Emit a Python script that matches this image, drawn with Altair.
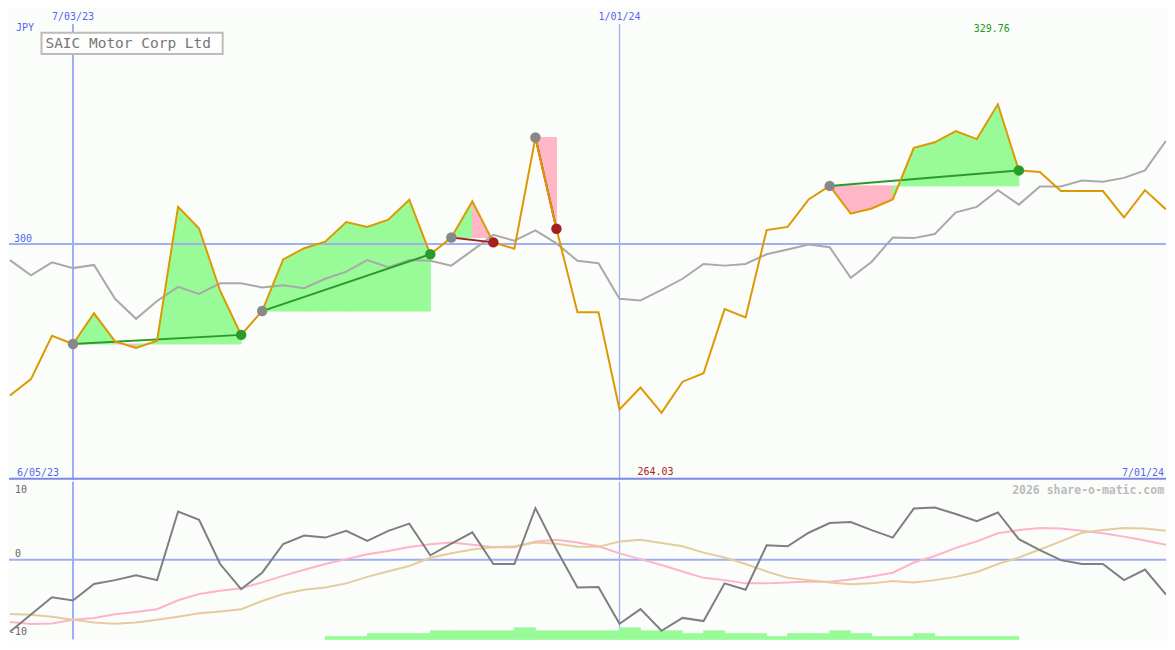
import altair as alt
import pandas as pd

# ---------------- data (weekly closes, JPY) ----------------
week_dates = pd.date_range("2023-06-12", "2024-07-01", freq="7D")  # 56 weeks

price = [267.73, 271.23, 280.44, 278.71, 285.25, 279.27, 277.89, 279.41, 307.91, 303.32,
         290.05, 280.65, 285.72, 296.72, 299.11, 300.49, 304.68, 303.65, 305.17, 309.42,
         297.82, 301.38, 309.09, 300.35, 298.99, 322.69, 303.24, 285.45, 285.45, 264.78,
         269.44, 264.03, 270.68, 272.47, 286.13, 284.36, 302.97, 303.65, 309.50, 312.38,
         306.47, 307.56, 309.50, 320.48, 321.66, 324.05, 322.34, 329.76, 315.68, 315.33,
         311.27, 311.27, 311.27, 305.65, 311.48, 307.36]

moving_avg = [296.58, 293.34, 296.11, 294.87, 295.55, 288.34, 284.07, 287.86, 290.87, 289.37,
              291.63, 291.63, 290.75, 291.22, 290.60, 292.60, 294.11, 296.58, 295.08, 296.58,
              296.44, 295.40, 298.64, 301.94, 300.70, 302.91, 300.14, 296.44, 295.90, 288.34,
              287.99, 290.25, 292.60, 295.76, 295.40, 295.76, 297.82, 298.85, 299.88, 299.32,
              292.81, 296.23, 301.38, 301.26, 302.14, 306.74, 307.91, 311.48, 308.39, 312.24,
              312.24, 313.54, 313.27, 314.09, 315.68, 321.99]

momentum = [-10.21, -7.78, -5.32, -5.78, -3.45, -2.90, -2.22, -2.90, 6.82, 5.64,
            -0.62, -4.18, -1.85, 2.22, 3.40, 3.12, 4.08, 2.67, 4.08, 5.10,
            0.62, 2.26, 3.86, -0.62, -0.62, 7.29, 1.44, -3.95, -3.86, -9.07,
            -7.01, -10.07, -8.25, -8.70, -3.36, -4.27, 2.03, 1.89, 3.81, 5.18,
            5.32, 4.18, 3.12, 7.23, 7.37, 6.47, 5.45, 6.68, 2.90, 1.34,
            -0.07, -0.62, -0.62, -2.90, -1.40, -4.96]

osc_fast = [-8.84, -9.11, -9.04, -8.52, -8.25, -7.74, -7.40, -7.01, -5.75, -4.86,
            -4.41, -4.04, -3.22, -2.30, -1.44, -0.62, 0.07, 0.75, 1.23, 1.78,
            2.19, 2.44, 2.12, 1.75, 1.75, 2.58, 2.81, 2.44, 1.89, 0.89,
            0.07, -0.75, -1.67, -2.58, -2.90, -3.36, -3.36, -3.22, -3.08, -3.12,
            -2.81, -2.40, -1.85, -0.41, 0.52, 1.67, 2.58, 3.73, 4.18, 4.49,
            4.41, 4.08, 3.73, 3.26, 2.71, 2.12]

osc_slow = [-7.70, -7.81, -8.08, -8.52, -8.90, -9.07, -8.90, -8.52, -8.08, -7.60,
            -7.33, -7.01, -5.86, -4.86, -4.27, -3.95, -3.36, -2.44, -1.64, -0.89,
            0.27, 0.89, 1.44, 1.75, 1.89, 2.44, 2.26, 1.81, 1.81, 2.58,
            2.81, 2.36, 1.89, 0.99, 0.30, -0.62, -1.67, -2.58, -2.90, -3.22,
            -3.49, -3.36, -3.04, -3.22, -2.90, -2.44, -1.75, -0.62, 0.30, 1.44,
            2.58, 3.81, 4.18, 4.49, 4.41, 4.08]

volume_dates = pd.date_range("2023-09-25", "2024-05-06", freq="7D")  # 33 weeks
volume = [1, 1, 2, 2, 2, 3, 3, 3, 3, 4, 3, 3, 3, 3, 4, 3, 3, 2, 3, 2, 2, 1, 2, 2, 3, 2,
          1, 1, 2, 1, 1, 1, 1]

entry_dates = ["2023-07-03", "2023-09-04", "2023-11-06", "2023-12-04", "2024-03-11"]
exit_dates = ["2023-08-28", "2023-10-30", "2023-11-20", "2023-12-11", "2024-05-13"]

grid_dates = ["2023-07-03", "2024-01-01"]
grid_widths = [2, 1.3]
range_start = "2023-06-05"
range_end = "2024-07-01"
title = "SAIC Motor Corp Ltd"
currency = "JPY"
price_level = 300
osc_ticks = [10, 0, -10]
watermark = "2026 share-o-matic.com"

# ---------------- helpers ----------------
origin = pd.Timestamp("2023-07-03")


def wk(d):
    return (pd.Timestamp(d) - origin).days / 7.0


def dlabel(d):
    d = pd.Timestamp(d)
    return f"{d.month}/{d.day:02d}/{d.year % 100:02d}"


SX = 1159 / 1175
SY = 630 / 650
W = 1159
H1 = 472
H2 = 158


def px(v):
    return v * SX


def py(v):
    return v * SY


def pyb(v):
    return (v - 487) * SY


FONT = "DejaVu Sans Mono"
BLUE_TXT = "#5566ee"
GRID = "#a0aef4"
BG = "#fbfdfb"

xs = alt.Scale(domain=[-3.0445, 52.0], nice=False, zero=False)
ys_top = alt.Scale(domain=[249.8, 350.15], nice=False, zero=False)
ys_bot = alt.Scale(domain=[-11.30, 11.03], nice=False, zero=False)
ys_vol = alt.Scale(domain=[0, 54.33], nice=False, zero=False)


def X(f="wk"):
    return alt.X(f"{f}:Q", scale=xs, axis=None)


def YT(f):
    return alt.Y(f"{f}:Q", scale=ys_top, axis=None)


def YB(f):
    return alt.Y(f"{f}:Q", scale=ys_bot, axis=None)


weeks = [wk(d) for d in week_dates]
main = pd.DataFrame({"wk": weeks, "price": price, "ma": moving_avg,
                     "mom": momentum, "fast": osc_fast, "slow": osc_slow})
pidx = {round(w): i for i, w in enumerate(weeks)}

# trade fills (per weekly segment between entry and exit)
fill_rows, line_rows, entry_rows, exit_rows = [], [], [], []
for t, (ed, xd) in enumerate(zip(entry_dates, exit_dates)):
    e, x = round(wk(ed)), round(wk(xd))
    base = price[pidx[e]]
    result = "win" if price[pidx[x]] >= base else "loss"
    for k in range(e, x):
        kind = "up" if price[pidx[k + 1]] >= base else "down"
        seg = f"{t}-{k}"
        fill_rows.append({"seg": seg, "wk": k, "p": price[pidx[k]], "base": base, "kind": kind})
        fill_rows.append({"seg": seg, "wk": k + 1, "p": price[pidx[k + 1]], "base": base, "kind": kind})
    line_rows.append({"trade": t, "wk": e, "price": base, "result": result})
    line_rows.append({"trade": t, "wk": x, "price": price[pidx[x]], "result": result})
    entry_rows.append({"wk": e, "price": base})
    exit_rows.append({"wk": x, "price": price[pidx[x]], "result": result})

fill_df = pd.DataFrame(fill_rows)
line_df = pd.DataFrame(line_rows)
entry_df = pd.DataFrame(entry_rows)
exit_df = pd.DataFrame(exit_rows)

grid_df = pd.DataFrame({"wk": [wk(d) for d in grid_dates], "w": grid_widths,
                        "label": [dlabel(d) for d in grid_dates]})
vol_df = pd.DataFrame({"wk": [wk(d) for d in volume_dates], "vol": volume})
vol_df["wk_end"] = vol_df["wk"] + 1

imax = max(range(len(price)), key=lambda i: price[i])
imin = min(range(len(price)), key=lambda i: price[i])
hi_df = pd.DataFrame({"wk": [weeks[imax]], "label": [f"{price[imax]:.2f}"]})
lo_df = pd.DataFrame({"wk": [weeks[imin]], "label": [f"{price[imin]:.2f}"]})
one = pd.DataFrame({"label": [title]})

result_color = alt.Color("result:N", scale=alt.Scale(domain=["win", "loss"],
                                                     range=["#2a9a2a", "#a52020"]), legend=None)
fill_scale = alt.Scale(domain=["up", "down"], range=["#98fb98", "#ffb6c6"])

# ---------------- top panel ----------------
vgrid_top = alt.Chart(grid_df).mark_rule(color=GRID).encode(
    x=X(), y=alt.value(py(16)), y2=alt.value(H1),
    strokeWidth=alt.StrokeWidth("w:Q", scale=None))

fills = alt.Chart(fill_df).mark_area(opacity=1, clip=True, strokeWidth=1).encode(
    x=X(), y=YT("p"), y2="base:Q",
    color=alt.Color("kind:N", scale=fill_scale, legend=None),
    stroke=alt.Stroke("kind:N", scale=fill_scale, legend=None),
    detail="seg:N")

hline = alt.Chart(pd.DataFrame({"level": [price_level]})).mark_rule(
    color=GRID, strokeWidth=2).encode(y=YT("level"))

ma_line = alt.Chart(main).mark_line(color="#a9a9a9", strokeWidth=2, clip=True).encode(
    x=X(), y=YT("ma"))
price_line = alt.Chart(main).mark_line(color="#dd9900", strokeWidth=2, clip=True).encode(
    x=X(), y=YT("price"))
trade_lines = alt.Chart(line_df).mark_line(strokeWidth=2).encode(
    x=X(), y=YT("price"), detail="trade:N", color=result_color)
entry_pts = alt.Chart(entry_df).mark_circle(size=110, opacity=1, color="#888888").encode(
    x=X(), y=YT("price"))
exit_pts = alt.Chart(exit_df).mark_circle(size=110, opacity=1).encode(
    x=X(), y=YT("price"), color=result_color)

title_box = alt.Chart(one).mark_rect(fill="#fdfefd", stroke="#bbbbbb", strokeWidth=2).encode(
    x=alt.value(px(33)), x2=alt.value(px(217)), y=alt.value(py(25)), y2=alt.value(py(47)))
title_txt = alt.Chart(one).mark_text(font=FONT, fontSize=14.5, color="#777777", align="left",
                                     baseline="middle").encode(
    x=alt.value(px(37)), y=alt.value(py(36.5)), text="label:N")

date_top = alt.Chart(grid_df).mark_text(font=FONT, fontSize=10, color=BLUE_TXT,
                                        baseline="middle").encode(
    x=X(), y=alt.value(py(8.5)), text="label:N")
cur_txt = alt.Chart(pd.DataFrame({"label": [currency]})).mark_text(
    font=FONT, fontSize=10, color=BLUE_TXT, align="left", baseline="middle").encode(
    x=alt.value(px(7)), y=alt.value(py(20)), text="label:N")
lvl_txt = alt.Chart(pd.DataFrame({"level": [price_level], "label": [str(price_level)]})).mark_text(
    font=FONT, fontSize=10, color=BLUE_TXT, align="left", baseline="middle", dy=-5).encode(
    x=alt.value(px(5)), y=YT("level"), text="label:N")
hi_txt = alt.Chart(hi_df).mark_text(font=FONT, fontSize=10, color="#229922",
                                    baseline="middle", dx=-6).encode(
    x=X(), y=alt.value(py(21)), text="label:N")
lo_txt = alt.Chart(lo_df).mark_text(font=FONT, fontSize=10, color="#aa2222",
                                    baseline="middle", dx=-6).encode(
    x=X(), y=alt.value(py(479.5)), text="label:N")
start_txt = alt.Chart(pd.DataFrame({"label": [dlabel(range_start)]})).mark_text(
    font=FONT, fontSize=10, color=BLUE_TXT, align="left", baseline="middle").encode(
    x=alt.value(px(8)), y=alt.value(py(480)), text="label:N")
end_txt = alt.Chart(pd.DataFrame({"label": [dlabel(range_end)]})).mark_text(
    font=FONT, fontSize=10, color=BLUE_TXT, align="right", baseline="middle").encode(
    x=alt.value(px(1173)), y=alt.value(py(480)), text="label:N")
sep = alt.Chart(one).mark_rule(color="#7b88e8", strokeWidth=2).encode(
    x=alt.value(0), x2=alt.value(W), y=alt.value(H1 - 1))

top = alt.layer(vgrid_top, fills, hline, ma_line, trade_lines, price_line, entry_pts, exit_pts,
                title_box, title_txt, date_top, cur_txt, lvl_txt, hi_txt, lo_txt,
                start_txt, end_txt, sep).resolve_scale(color="independent",
                                                       stroke="independent").properties(
    width=W, height=H1)

# ---------------- bottom panel ----------------
vgrid_bot = alt.Chart(grid_df).mark_rule(color=GRID).encode(
    x=X(), y=alt.value(0), y2=alt.value(H2),
    strokeWidth=alt.StrokeWidth("w:Q", scale=None))
bars = alt.Chart(vol_df).mark_rect(color="#98fb98", stroke="#98fb98", strokeWidth=0.8).encode(
    x=X(), x2="wk_end:Q", y=alt.Y("vol:Q", scale=ys_vol, axis=None), y2=alt.datum(0))
zero = alt.Chart(pd.DataFrame({"level": [0]})).mark_rule(color=GRID, strokeWidth=2).encode(
    y=YB("level"))
fast_line = alt.Chart(main).mark_line(color="#ffb3c8", strokeWidth=2, clip=True).encode(
    x=X(), y=YB("fast"))
slow_line = alt.Chart(main).mark_line(color="#e6cc9c", strokeWidth=2, clip=True).encode(
    x=X(), y=YB("slow"))
mom_line = alt.Chart(main).mark_line(color="#7f7f7f", strokeWidth=2, clip=True).encode(
    x=X(), y=YB("mom"))

tick_df = pd.DataFrame({"label": [str(v) for v in osc_ticks],
                        "xp": [px(6), px(6), px(0)],
                        "yp": [pyb(496), pyb(562), pyb(642)]})
tick_txt = alt.Chart(tick_df).mark_text(font=FONT, fontSize=10, color="#666666", align="left",
                                        baseline="middle").encode(
    x=alt.X("xp:Q", scale=None), y=alt.Y("yp:Q", scale=None), text="label:N")
wm_txt = alt.Chart(pd.DataFrame({"label": [watermark]})).mark_text(
    font=FONT, fontSize=11.5, fontWeight="bold", color="#bbbbbb", align="right",
    baseline="middle").encode(x=alt.value(px(1173)), y=alt.value(pyb(496.5)), text="label:N")

bottom = alt.layer(vgrid_bot, bars, zero, fast_line, slow_line, mom_line, tick_txt,
                   wm_txt).resolve_scale(y="independent", x="independent").properties(
    width=W, height=H2)

chart = alt.vconcat(top, bottom, spacing=0).properties(
    padding=0, background=BG).configure_view(stroke=None)

chart.save("out.html", embed_options={"renderer": "svg", "actions": False})
